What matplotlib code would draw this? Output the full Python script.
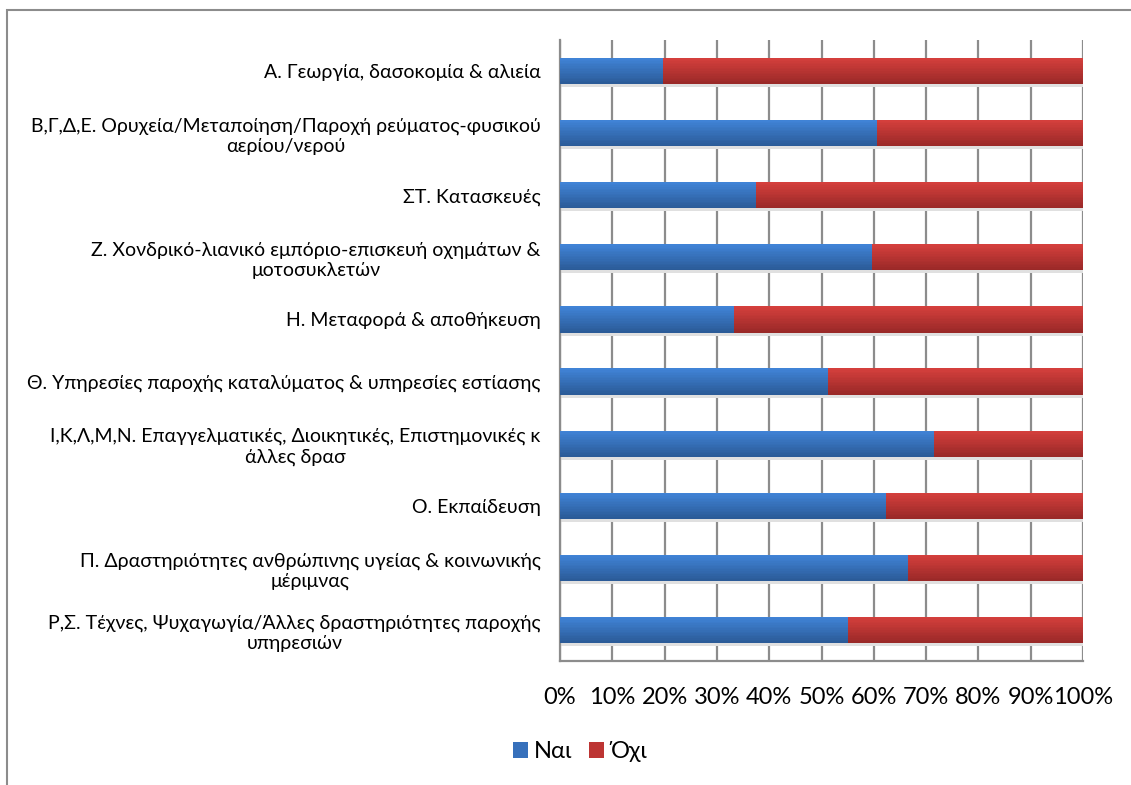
import numpy as np
import matplotlib.pyplot as plt
from matplotlib.patches import Rectangle, Patch
from matplotlib.colors import to_rgb

plt.rcParams['font.family'] = ['Lato', 'Noto Sans', 'DejaVu Sans']

# Data (percent answering Yes / No per sector)
categories = [
    "Α. Γεωργία, δασοκομία & αλιεία",
    "Β,Γ,Δ,Ε. Ορυχεία/Μεταποίηση/Παροχή ρεύματος-φυσικού\nαερίου/νερού",
    "ΣΤ. Κατασκευές",
    "Ζ. Χονδρικό-λιανικό εμπόριο-επισκευή οχημάτων &\nμοτοσυκλετών",
    "Η. Μεταφορά & αποθήκευση",
    "Θ. Υπηρεσίες παροχής καταλύματος & υπηρεσίες εστίασης",
    "Ι,Κ,Λ,Μ,Ν. Επαγγελματικές, Διοικητικές, Επιστημονικές κ\nάλλες δρασ",
    "Ο. Εκπαίδευση",
    "Π. Δραστηριότητες ανθρώπινης υγείας & κοινωνικής\nμέριμνας",
    "Ρ,Σ. Τέχνες, Ψυχαγωγία/Άλλες δραστηριότητες παροχής\nυπηρεσιών",
]
nai = [19.7, 60.6, 37.5, 59.7, 33.3, 51.2, 71.5, 62.3, 66.5, 55.1]
oxi = [80.3, 39.4, 62.5, 40.3, 66.7, 48.8, 28.5, 37.7, 33.5, 44.9]
xticks = [0, 10, 20, 30, 40, 50, 60, 70, 80, 90, 100]

blue_top, blue_bot = '#4083d6', '#2b5b98'
red_top, red_bot = '#d43f3c', '#9a2928'

fig = plt.figure(figsize=(11.31, 7.85), dpi=100)
ax = fig.add_axes([560 / 1131, 1 - 661 / 785, 523 / 1131, 621 / 785])

y = np.arange(len(categories))
h = 0.42

# soft shadow under bars
total = [a + b for a, b in zip(nai, oxi)]
ax.barh(y + 0.05, total, height=h, color='#e0e0e0', zorder=2)

# gradient bars: stack thin slices, light at top, dark at bottom
n = 16
for k in range(n):
    t = k / (n - 1)
    cb = (1 - t) * np.array(to_rgb(blue_top)) + t * np.array(to_rgb(blue_bot))
    cr = (1 - t) * np.array(to_rgb(red_top)) + t * np.array(to_rgb(red_bot))
    yk = y - h / 2 + (k + 0.5) * h / n  # axis inverted: small y is top
    ax.barh(yk, nai, height=h / n * 1.05, color=cb, zorder=3, linewidth=0)
    ax.barh(yk, oxi, left=nai, height=h / n * 1.05, color=cr, zorder=3, linewidth=0)

ax.set_xlim(0, 100)
ax.set_ylim(len(categories) - 0.5, -0.5)
ax.set_xticks(xticks)
ax.set_xticklabels([f"{t}%" for t in xticks], fontsize=17)
ax.set_yticks(y)
ax.set_yticklabels(categories, fontsize=14, multialignment='center', linespacing=1.25)
ax.tick_params(axis='both', length=0)
ax.tick_params(axis='y', pad=14)
ax.tick_params(axis='x', pad=19)
ax.grid(axis='x', color='#8c8c8c', linewidth=1.6, zorder=1)
ax.set_axisbelow(True)
ax.spines['top'].set_visible(False)
ax.spines['right'].set_visible(False)
for s in ['left', 'bottom']:
    ax.spines[s].set_color('#8c8c8c')
    ax.spines[s].set_linewidth(1.6)

handles = [Patch(facecolor='#3670bb', label='Ναι'), Patch(facecolor='#bd3533', label='Όχι')]
fig.legend(handles=handles, loc='center', bbox_to_anchor=(580 / 1131, 1 - 752 / 785),
           ncol=2, frameon=False, fontsize=17, handlelength=0.64, handleheight=0.64,
           handletextpad=0.25, columnspacing=0.72)

# chart frame (left and top edges visible)
fig.patches.append(Rectangle((7 / 1131, -0.1), 1.2, 1 - 10 / 785 + 0.1, transform=fig.transFigure,
                             fill=False, edgecolor='#8c8c8c', linewidth=1.5))

fig.savefig('out.png', dpi=100)
